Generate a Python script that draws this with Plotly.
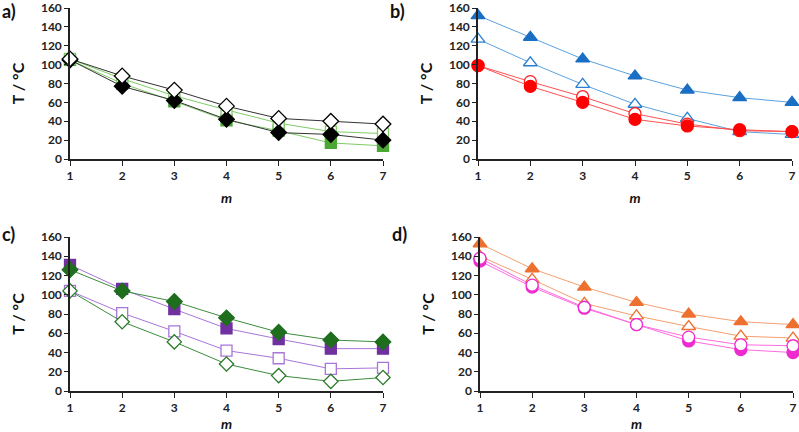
import plotly.graph_objects as go

m = [1, 2, 3, 4, 5, 6, 7]

# Panel a
a_sq_filled = [105, 80, 61, 41, 30, 17, 14]
a_sq_open = [106, 85, 67, 52, 38, 29, 27]
a_di_filled = [105, 77, 62, 42, 28, 26, 20]
a_di_open = [106, 88, 73, 56, 43, 40, 37]

# Panel b
b_tri_filled = [152, 129, 106, 88, 73, 65, 60]
b_tri_open = [127, 102, 79, 58, 43, 29, 26]
b_cir_filled = [99, 77, 60, 42, 35, 31, 29]
b_cir_open = [99, 82, 66, 48, 37, 30, 29]

# Panel c
c_sq_filled = [131, 106, 85, 65, 54, 44, 44]
c_sq_open = [104, 81, 62, 42, 34, 23, 24]
c_di_filled = [126, 104, 93, 76, 61, 53, 51]
c_di_open = [104, 72, 51, 28, 16, 10, 14]

# Panel d
d_tri_filled = [153, 127, 108, 92, 80, 72, 69]
d_tri_open = [140, 116, 91, 78, 67, 57, 55]
d_cir_filled = [135, 108, 86, 69, 52, 43, 40]
d_cir_open = [138, 110, 87, 69, 56, 48, 47]

y_ticks = [0, 20, 40, 60, 80, 100, 120, 140, 160]
panel_labels = ["a)", "b)", "c)", "d)"]

W, H = 799, 432
FONT = "Lato"

fig = go.Figure()


def add(xa, ya, y, symbol, fill, edge, line, size=11, filled=True):
    fig.add_trace(go.Scatter(
        x=m, y=y, mode="lines+markers", xaxis=xa, yaxis=ya,
        line=dict(color=line, width=1),
        marker=dict(symbol=symbol, size=size,
                    color=fill if filled else "white",
                    line=dict(color=edge, width=1.3)),
        cliponaxis=False, showlegend=False,
    ))


# a
add("x", "y", a_sq_filled, "square", "#4aa832", "#4aa832", "#7fcc66", 11)
add("x", "y", a_sq_open, "square", "#4aa832", "#7fcc66", "#7fcc66", 11, False)
add("x", "y", a_di_filled, "diamond", "#000000", "#000000", "#333333", 12)
add("x", "y", a_di_open, "diamond", "#000000", "#000000", "#333333", 12, False)
# b
add("x2", "y2", b_tri_filled, "triangle-up", "#1a6fc4", "#1a6fc4", "#5aa2e0", 12)
add("x2", "y2", b_tri_open, "triangle-up", "#1a6fc4", "#2a7fd0", "#5aa2e0", 12, False)
add("x2", "y2", b_cir_open, "circle", "#ff0000", "#ff2020", "#ff5050", 12, False)
add("x2", "y2", b_cir_filled, "circle", "#ff0000", "#ff0000", "#ff5050", 12)
# c
add("x3", "y3", c_sq_filled, "square", "#7030a0", "#7030a0", "#a875d8", 11)
add("x3", "y3", c_sq_open, "square", "#7030a0", "#a875d8", "#a875d8", 11, False)
add("x3", "y3", c_di_filled, "diamond", "#1e6e1e", "#1e6e1e", "#3c8c3c", 12)
add("x3", "y3", c_di_open, "diamond", "#1e6e1e", "#2a7a2a", "#3c8c3c", 11, False)
# d
add("x4", "y4", d_tri_filled, "triangle-up", "#ed7030", "#ed7030", "#f5a070", 12)
add("x4", "y4", d_tri_open, "triangle-up", "#ed7030", "#ed7030", "#f5a070", 12, False)
add("x4", "y4", d_cir_filled, "circle", "#ee2ad0", "#ee2ad0", "#ff6ae0", 12)
add("x4", "y4", d_cir_open, "circle", "#ee2ad0", "#ee2ad0", "#ff6ae0", 12, False)


def px_x(p):
    return p / W


def px_y(p):
    return 1 - p / H


panels = {
    "": ((70, 383), (159, 8)),
    "2": ((478, 792), (159, 8)),
    "3": ((70, 383), (391, 237)),
    "4": ((480, 793), (391, 237)),
}

tickfont = dict(family=FONT, size=12, color="#222222", weight="bold")
for k, ((x0, x1), (yb, yt)) in panels.items():
    fig.update_layout(**{
        "xaxis" + k: dict(
            domain=[px_x(x0), px_x(x1)], range=[1, 7], anchor="y" + k,
            tickvals=m, ticks="outside", ticklen=5, tickcolor="#222",
            showline=True, linecolor="#222", linewidth=1.5,
            showgrid=False, zeroline=False, tickfont=tickfont, automargin=False,
            ticklabeloverflow="allow",
            title=dict(text="<i>m</i>", font=dict(family=FONT, size=14, color="#111", weight="bold"), standoff=11),
        ),
        "yaxis" + k: dict(
            domain=[px_y(yb), px_y(yt)], range=[0, 160], anchor="x" + k,
            tickvals=y_ticks, ticks="outside", ticklen=4, tickcolor="#222",
            showline=True, linecolor="#222", linewidth=1.5,
            showgrid=False, zeroline=False, tickfont=tickfont, automargin=False,
            ticklabeloverflow="allow",
            title=dict(text="T / °C", font=dict(family=FONT, size=16, color="#111", weight="bold"), standoff=12),
        ),
    })

label_pos = [(0, 11), (388, 11), (0, 234), (390, 234)]
for lab, (lx, ly) in zip(panel_labels, label_pos):
    fig.add_annotation(text=lab, x=px_x(lx), y=px_y(ly), xref="paper", yref="paper",
                       xanchor="left", yanchor="middle", showarrow=False,
                       font=dict(family=FONT, size=18, color="#111", weight="bold"))

fig.update_layout(width=W, height=H, margin=dict(l=0, r=0, t=0, b=0),
                  paper_bgcolor="white", plot_bgcolor="white")

fig.write_html("out.html")
